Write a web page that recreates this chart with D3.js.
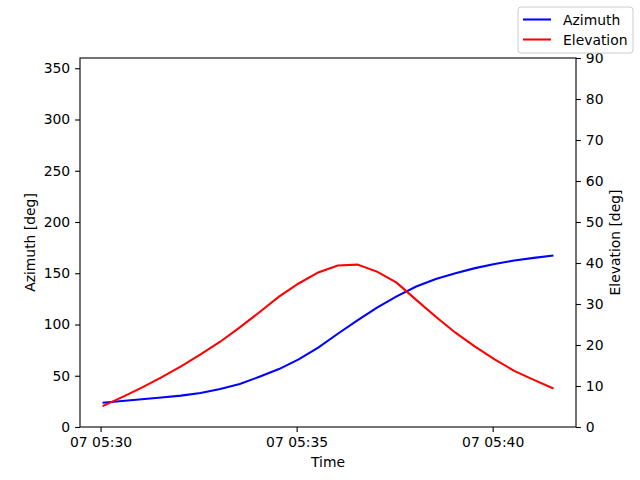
<!DOCTYPE html>
<html>
<head>
<meta charset="utf-8">
<script src="https://cdn.jsdelivr.net/npm/d3@7"></script>
<style>
  body { margin: 0; background: #fff; }
  text { font-family: "DejaVu Sans", sans-serif; }
  .tick text { font-size: 13.9px; fill: #000; }
  .tick line { stroke: #000; stroke-width: 1.1; }
  .domain { stroke: none; }
</style>
</head>
<body>
<div id="chart"></div>
<script>
var svgWidth = 640;
var svgHeight = 480;

var margin = { top: 58, right: 64, bottom: 53, left: 80 };
var width = svgWidth - margin.left - margin.right;
var height = svgHeight - margin.top - margin.bottom;

// Datos: una muestra cada 30 s
var startTime = "2023-01-07T05:30:03Z";
var stepSeconds = 30;
var azimuth = [23.7, 25.3, 27.0, 28.7, 30.6, 33.2, 37.0, 42.0, 49.0, 56.5, 66.0, 77.5,
               91.0, 104.0, 116.5, 127.5, 137.0, 144.3, 150.0, 155.0, 159.0, 162.5, 165.0, 167.4];
var elevation = [5.1, 7.3, 9.6, 12.1, 14.8, 17.7, 20.8, 24.3, 28.0, 31.8, 35.0, 37.7,
                 39.4, 39.6, 37.9, 35.2, 31.0, 26.9, 23.0, 19.6, 16.5, 13.7, 11.5, 9.4];
var xTicks = ["2023-01-07T05:30:00Z", "2023-01-07T05:35:00Z", "2023-01-07T05:40:00Z"];
var azTicks = [0, 50, 100, 150, 200, 250, 300, 350];
var elTicks = [0, 10, 20, 30, 40, 50, 60, 70, 80, 90];

var t0 = new Date(startTime);
var times = azimuth.map((d, i) => new Date(t0.getTime() + i * stepSeconds * 1000));

var svg = d3.select("#chart")
    .append("svg")
    .attr("width", svgWidth)
    .attr("height", svgHeight);

var chartGroup = svg.append("g")
    .attr("transform", `translate(${margin.left}, ${margin.top})`);

// Escala x con margen del 5%
var tExt = d3.extent(times);
var pad = (tExt[1] - tExt[0]) * 0.05;
var xScale = d3.scaleUtc()
    .domain([new Date(tExt[0].getTime() - pad), new Date(tExt[1].getTime() + pad)])
    .range([0, width]);

var yAz = d3.scaleLinear().domain([0, 360]).range([height, 0]);
var yEl = d3.scaleLinear().domain([0, 90]).range([height, 0]);

var bottomAxis = d3.axisBottom(xScale)
    .tickValues(xTicks.map(d => new Date(d)))
    .tickFormat(d3.utcFormat("%d %H:%M"))
    .tickSize(4.9).tickPadding(4.9);
var leftAxis = d3.axisLeft(yAz).tickValues(azTicks).tickSize(4.9).tickPadding(4.9);
var rightAxis = d3.axisRight(yEl).tickValues(elTicks).tickSize(4.9).tickPadding(4.9);

chartGroup.append("g")
    .attr("transform", `translate(0, ${height})`)
    .call(bottomAxis);
chartGroup.append("g").call(leftAxis);
chartGroup.append("g")
    .attr("transform", `translate(${width}, 0)`)
    .call(rightAxis);

// Líneas
var azLine = d3.line()
    .x((d, i) => xScale(times[i]))
    .y(d => yAz(d));
var elLine = d3.line()
    .x((d, i) => xScale(times[i]))
    .y(d => yEl(d));

chartGroup.append("path")
    .datum(azimuth)
    .attr("d", azLine)
    .attr("fill", "none")
    .attr("stroke", "blue")
    .attr("stroke-width", 2.08);

chartGroup.append("path")
    .datum(elevation)
    .attr("d", elLine)
    .attr("fill", "none")
    .attr("stroke", "red")
    .attr("stroke-width", 2.08);

// Marco
chartGroup.append("rect")
    .attr("width", width)
    .attr("height", height)
    .attr("fill", "none")
    .attr("stroke", "#000")
    .attr("stroke-width", 1.1);

// Etiquetas de ejes
chartGroup.append("text")
    .attr("x", width / 2)
    .attr("y", height + 40)
    .attr("text-anchor", "middle")
    .style("font-size", "13.9px")
    .text("Time");

chartGroup.append("text")
    .attr("transform", "rotate(-90)")
    .attr("x", -height / 2)
    .attr("y", -45)
    .attr("text-anchor", "middle")
    .style("font-size", "13.9px")
    .text("Azimuth [deg]");

chartGroup.append("text")
    .attr("transform", "rotate(-90)")
    .attr("x", -height / 2)
    .attr("y", width + 44)
    .attr("text-anchor", "middle")
    .style("font-size", "13.9px")
    .text("Elevation [deg]");

// Leyenda
var legend = svg.append("g").attr("transform", "translate(518, 7)");
legend.append("rect")
    .attr("width", 115)
    .attr("height", 46)
    .attr("rx", 3)
    .attr("fill", "#fff")
    .attr("fill-opacity", 0.8)
    .attr("stroke", "#ccc");

var legendItems = [{ name: "Azimuth", color: "blue" }, { name: "Elevation", color: "red" }];
legendItems.forEach((d, i) => {
    var y = 12.5 + i * 20;
    legend.append("line")
        .attr("x1", 5).attr("x2", 33)
        .attr("y1", y).attr("y2", y)
        .attr("stroke", d.color)
        .attr("stroke-width", 2.08);
    legend.append("text")
        .attr("x", 45)
        .attr("y", y + 5)
        .style("font-size", "13.9px")
        .text(d.name);
});
</script>
</body>
</html>
